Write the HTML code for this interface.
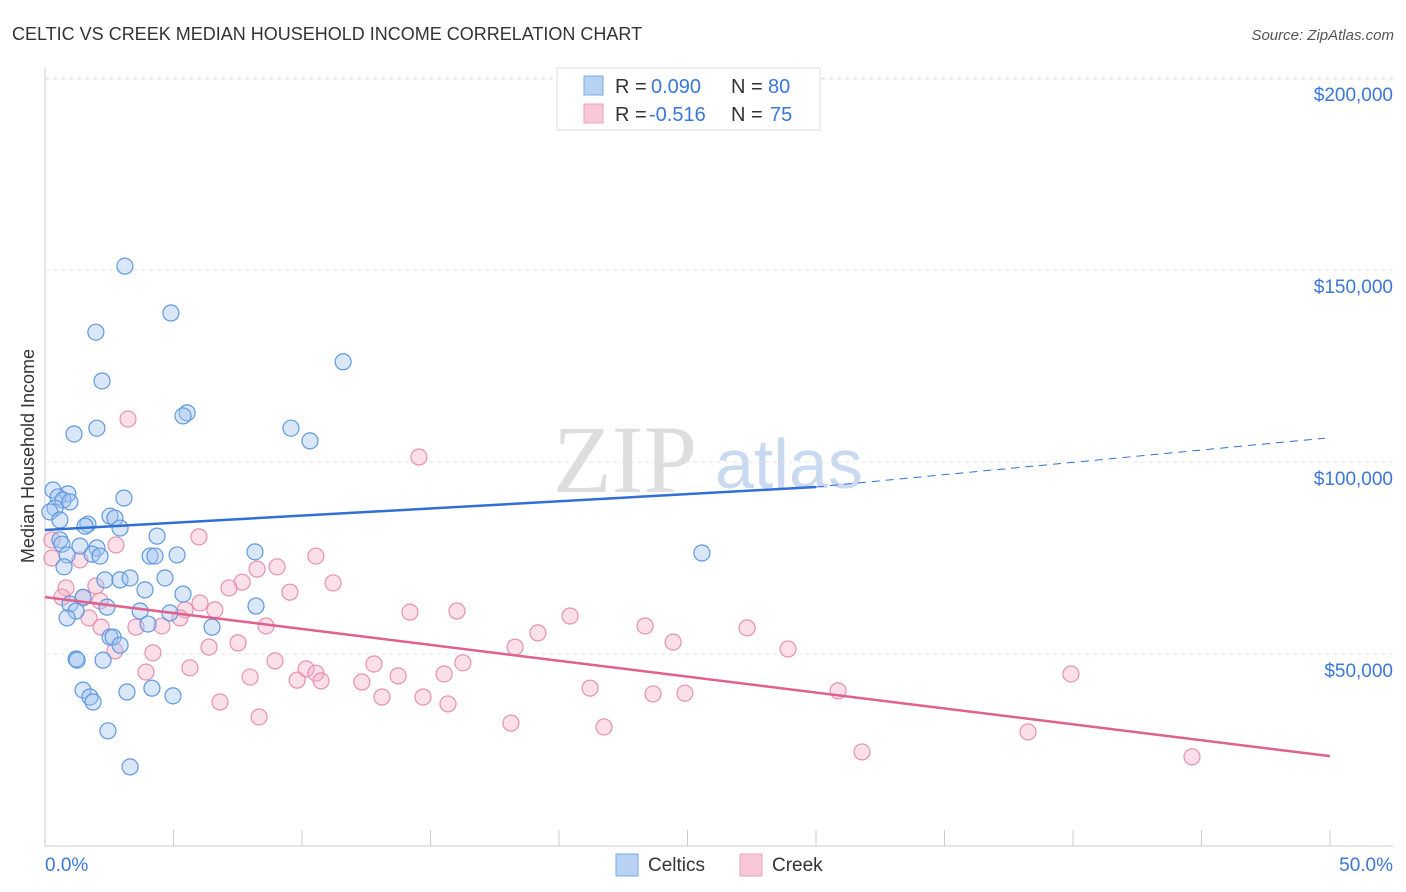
<!DOCTYPE html>
<html><head><meta charset="utf-8"><style>
body{margin:0;background:#fff;font-family:"Liberation Sans",sans-serif;}
svg{display:block}
</style></head><body>
<svg id="c" width="1406" height="892">
<text x="12" y="40" font-size="18" fill="#333">CELTIC VS CREEK MEDIAN HOUSEHOLD INCOME CORRELATION CHART</text>
<text x="1394" y="40" font-size="15" fill="#555" font-style="italic" text-anchor="end">Source: ZipAtlas.com</text>
<text x="34" y="456" font-size="18" fill="#333" transform="rotate(-90 34 456)" text-anchor="middle">Median Household Income</text>
<g><text x="553" y="492" font-size="96" font-family="Liberation Serif,serif" fill="#ddd">ZIP</text><text x="715" y="488" font-size="70" fill="#c9daf0">atlas</text></g>
<g id="grid"></g><g id="marks"></g>
<g>
<rect x="557" y="68" width="263" height="62" fill="#fff" stroke="#ddd"/>
<rect x="584" y="76" width="19" height="19" fill="#b8d2f4" stroke="#7aa8e4"/>
<rect x="584" y="104" width="19" height="19" fill="#f8c8d8" stroke="#eba0bc"/>
<text x="615" y="93" font-size="20" fill="#333">R =</text>
<text x="651" y="93" font-size="20" fill="#3a78d8">0.090</text>
<text x="731" y="93" font-size="20" fill="#333">N =</text>
<text x="768" y="93" font-size="20" fill="#3a78d8">80</text>
<text x="615" y="121" font-size="20" fill="#333">R =</text>
<text x="649" y="121" font-size="20" fill="#3a78d8">-0.516</text>
<text x="731" y="121" font-size="20" fill="#333">N =</text>
<text x="770" y="121" font-size="20" fill="#3a78d8">75</text>
</g>
<g>
<rect x="616" y="854" width="22" height="22" fill="#b8d2f4" stroke="#7aa8e4"/>
<text x="648" y="871" font-size="19" fill="#333">Celtics</text>
<rect x="740" y="854" width="22" height="22" fill="#f8c8d8" stroke="#eba0bc"/>
<text x="772" y="871" font-size="19" fill="#333">Creek</text>
</g>
</svg>
<script>
const yTicks=[50,100,150,200];
const yTickLabels=["$50,000","$100,000","$150,000","$200,000"];
const xLabels=["0.0%","50.0%"];
const celticsX=[3.11,4.90,1.98,11.60,2.22,5.53,5.37,1.13,2.02,9.57,10.31,0.31,0.89,0.51,0.70,3.07,0.97,0.39,0.19,2.53,0.58,1.67,1.56,2.72,2.92,4.36,0.58,0.66,1.36,2.02,1.83,2.14,0.86,0.74,4.09,4.28,5.14,8.17,25.56,2.33,2.92,3.31,4.67,3.89,5.37,1.48,0.97,1.21,2.41,3.70,4.86,4.01,0.86,8.21,6.50,2.53,2.65,2.92,1.21,1.25,2.26,1.48,1.75,1.87,3.19,4.16,4.98,2.45,3.31];
const celticsY=[151.0,138.8,133.8,126.1,121.1,112.8,112.0,107.3,108.8,108.8,105.5,92.7,91.7,90.9,90.1,90.6,89.6,88.0,87.0,85.9,84.9,83.8,83.3,85.4,82.8,80.7,79.7,78.6,78.1,77.6,76.0,75.5,75.8,72.7,75.5,75.5,75.8,76.6,76.3,69.3,69.3,69.8,69.8,66.7,65.6,64.8,63.0,61.2,62.2,61.2,60.7,57.8,59.4,62.5,57.0,54.4,54.4,52.3,48.7,48.4,48.4,40.6,38.8,37.5,40.1,41.1,39.1,30.0,20.6];
const creekX=[3.23,14.55,5.99,2.76,10.54,0.27,1.36,0.27,7.67,9.03,8.25,11.21,7.16,9.53,0.82,1.98,0.66,1.48,2.14,6.03,5.45,6.61,14.20,16.03,20.43,5.25,1.71,2.18,3.54,4.55,8.60,23.35,27.32,19.18,7.51,6.38,24.44,18.29,28.91,2.72,4.20,8.95,12.80,16.26,10.16,5.64,3.93,10.54,7.98,13.74,15.53,39.92,9.81,10.74,12.33,21.21,24.90,23.66,30.86,13.11,14.71,15.68,6.81,8.33,18.13,21.75,38.25,31.79,44.63];
const creekY=[111.2,101.3,80.5,78.4,75.5,75.0,74.5,79.7,68.7,72.7,72.1,68.5,67.2,66.1,67.2,67.7,64.8,64.6,63.8,63.3,61.5,61.5,60.9,61.2,59.9,59.4,59.4,57.0,57.0,57.3,57.3,57.3,56.8,55.5,52.9,51.8,53.1,51.8,51.3,50.8,50.3,48.2,47.4,47.7,46.1,46.4,45.3,45.0,44.0,44.3,44.8,44.8,43.2,43.0,42.7,41.1,39.8,39.6,40.4,38.8,38.8,37.0,37.5,33.6,32.0,31.0,29.7,24.5,23.2];
const celticsTrend=[[0,82.3],[30,93.5],[49.8,106.2]];
const creekTrend=[[0,64.8],[50,23.4]];
const NS="http://www.w3.org/2000/svg";
const X=p=>45+p*25.7, Y=k=>846-k*3.84;
function mk(t,a,parent){const e=document.createElementNS(NS,t);for(const k in a)e.setAttribute(k,a[k]);parent.appendChild(e);return e;}
const grid=document.getElementById('grid'),marks=document.getElementById('marks');
mk('line',{x1:45,y1:68,x2:45,y2:846,stroke:'#ccc'},grid);
mk('line',{x1:45,y1:846,x2:1393,y2:846,stroke:'#ccc'},grid);
mk('line',{x1:45,y1:79,x2:1393,y2:79,stroke:'#e4e4e4','stroke-dasharray':'4,4'},grid);
yTicks.forEach((v,i)=>{
 const g=mk('line',{x1:45,y1:Y(v),x2:1393,y2:Y(v),stroke:'#e4e4e4','stroke-dasharray':'4,4'},grid);
 
 
 const t=mk('text',{x:1393,y:Y(v)+23,'font-size':19,fill:'#3a78d8','text-anchor':'end'},grid);
 t.textContent=yTickLabels[i];
 
 
});
for(let i=0;i<=10;i++){const l=mk('line',{x1:X(i*5),y1:830,x2:X(i*5),y2:846,stroke:'#ccc'},grid);
 
 }
[[0,'start',45],[1,'end',1393]].forEach(([i,a,x])=>{const t=mk('text',{x:x,y:871,'font-size':19,fill:'#3a78d8','text-anchor':a},grid);t.textContent=xLabels[i];
 
 });
function pts(xs,ys,fill,stroke,name){xs.forEach((x,i)=>{const c=mk('circle',{cx:X(x),cy:Y(ys[i]),r:8,fill:fill,'fill-opacity':0.4,stroke:stroke,'stroke-width':1.2},marks);
 
 });}
pts(creekX,creekY,'#f4b0c8','#e890b0','creek-point');
pts(celticsX,celticsY,'#a0c4f0','#5f98e0','celtics-point');
const b1=mk('line',{x1:X(celticsTrend[0][0]),y1:Y(celticsTrend[0][1]),x2:X(celticsTrend[1][0]),y2:Y(celticsTrend[1][1]),stroke:'#2f6fd6','stroke-width':2.5},marks);


const b2=mk('line',{x1:X(celticsTrend[1][0]),y1:Y(celticsTrend[1][1]),x2:X(celticsTrend[2][0]),y2:Y(celticsTrend[2][1]),stroke:'#2f6fd6','stroke-width':1,'stroke-dasharray':'8,6'},marks);


const p1=mk('line',{x1:X(creekTrend[0][0]),y1:Y(creekTrend[0][1]),x2:X(creekTrend[1][0]),y2:Y(creekTrend[1][1]),stroke:'#e0608e','stroke-width':2.5},marks);


</script>
</body></html>
